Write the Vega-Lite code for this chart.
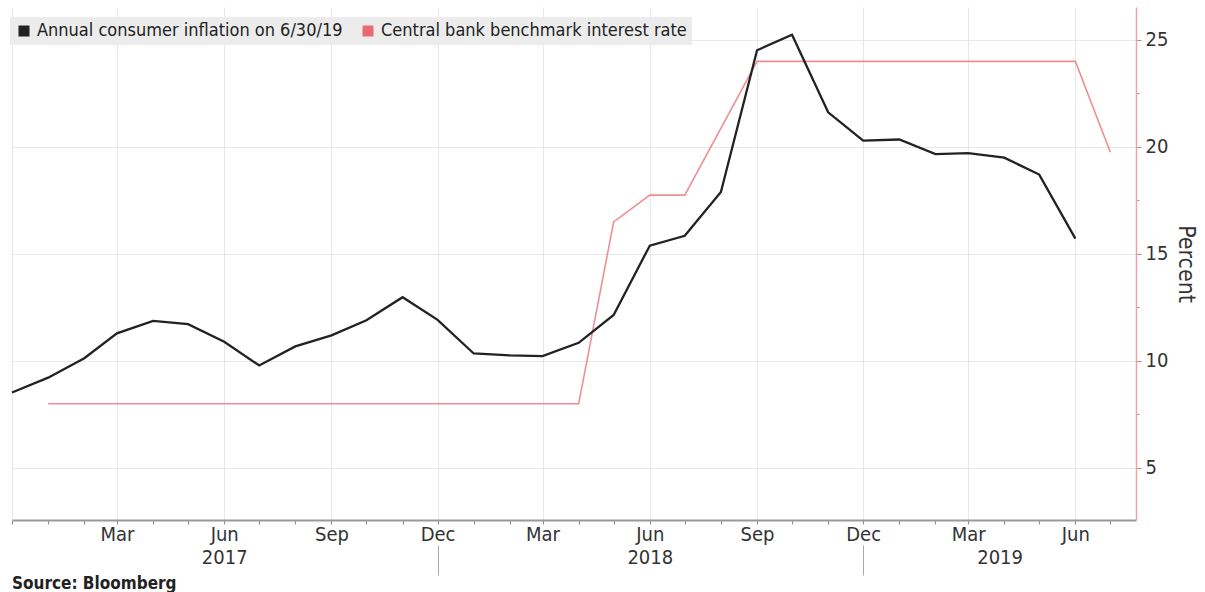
{
  "$schema": "https://vega.github.io/schema/vega-lite/v6.json",
  "width": 1124,
  "height": 513,
  "padding": {"left": 7, "top": 7, "right": 0, "bottom": 0},
  "background": "white",
  "config": {"font": "DejaVu Sans Condensed", "view": {"stroke": null}},
  "title": {"text": "Source: Bloomberg", "orient": "bottom", "anchor": "start", "frame": "group", "fontSize": 17, "fontWeight": "bold", "color": "#222", "font": "DejaVu Sans Condensed", "offset": 0},
  "datasets": {
    "rows": [
      {"date": "2016-12-01", "series": "Annual consumer inflation on 6/30/19", "value": 8.53},
      {"date": "2017-01-01", "series": "Annual consumer inflation on 6/30/19", "value": 9.22},
      {"date": "2017-02-01", "series": "Annual consumer inflation on 6/30/19", "value": 10.13},
      {"date": "2017-03-01", "series": "Annual consumer inflation on 6/30/19", "value": 11.29},
      {"date": "2017-04-01", "series": "Annual consumer inflation on 6/30/19", "value": 11.87},
      {"date": "2017-05-01", "series": "Annual consumer inflation on 6/30/19", "value": 11.72},
      {"date": "2017-06-01", "series": "Annual consumer inflation on 6/30/19", "value": 10.90},
      {"date": "2017-07-01", "series": "Annual consumer inflation on 6/30/19", "value": 9.79},
      {"date": "2017-08-01", "series": "Annual consumer inflation on 6/30/19", "value": 10.68},
      {"date": "2017-09-01", "series": "Annual consumer inflation on 6/30/19", "value": 11.20},
      {"date": "2017-10-01", "series": "Annual consumer inflation on 6/30/19", "value": 11.90},
      {"date": "2017-11-01", "series": "Annual consumer inflation on 6/30/19", "value": 12.98},
      {"date": "2017-12-01", "series": "Annual consumer inflation on 6/30/19", "value": 11.92},
      {"date": "2018-01-01", "series": "Annual consumer inflation on 6/30/19", "value": 10.35},
      {"date": "2018-02-01", "series": "Annual consumer inflation on 6/30/19", "value": 10.26},
      {"date": "2018-03-01", "series": "Annual consumer inflation on 6/30/19", "value": 10.23},
      {"date": "2018-04-01", "series": "Annual consumer inflation on 6/30/19", "value": 10.85},
      {"date": "2018-05-01", "series": "Annual consumer inflation on 6/30/19", "value": 12.15},
      {"date": "2018-06-01", "series": "Annual consumer inflation on 6/30/19", "value": 15.39},
      {"date": "2018-07-01", "series": "Annual consumer inflation on 6/30/19", "value": 15.85},
      {"date": "2018-08-01", "series": "Annual consumer inflation on 6/30/19", "value": 17.90},
      {"date": "2018-09-01", "series": "Annual consumer inflation on 6/30/19", "value": 24.52},
      {"date": "2018-10-01", "series": "Annual consumer inflation on 6/30/19", "value": 25.24},
      {"date": "2018-11-01", "series": "Annual consumer inflation on 6/30/19", "value": 21.62},
      {"date": "2018-12-01", "series": "Annual consumer inflation on 6/30/19", "value": 20.30},
      {"date": "2019-01-01", "series": "Annual consumer inflation on 6/30/19", "value": 20.35},
      {"date": "2019-02-01", "series": "Annual consumer inflation on 6/30/19", "value": 19.67},
      {"date": "2019-03-01", "series": "Annual consumer inflation on 6/30/19", "value": 19.71},
      {"date": "2019-04-01", "series": "Annual consumer inflation on 6/30/19", "value": 19.50},
      {"date": "2019-05-01", "series": "Annual consumer inflation on 6/30/19", "value": 18.71},
      {"date": "2019-06-01", "series": "Annual consumer inflation on 6/30/19", "value": 15.72},
      {"date": "2017-01-01", "series": "Central bank benchmark interest rate", "value": 8},
      {"date": "2017-02-01", "series": "Central bank benchmark interest rate", "value": 8},
      {"date": "2017-03-01", "series": "Central bank benchmark interest rate", "value": 8},
      {"date": "2017-04-01", "series": "Central bank benchmark interest rate", "value": 8},
      {"date": "2017-05-01", "series": "Central bank benchmark interest rate", "value": 8},
      {"date": "2017-06-01", "series": "Central bank benchmark interest rate", "value": 8},
      {"date": "2017-07-01", "series": "Central bank benchmark interest rate", "value": 8},
      {"date": "2017-08-01", "series": "Central bank benchmark interest rate", "value": 8},
      {"date": "2017-09-01", "series": "Central bank benchmark interest rate", "value": 8},
      {"date": "2017-10-01", "series": "Central bank benchmark interest rate", "value": 8},
      {"date": "2017-11-01", "series": "Central bank benchmark interest rate", "value": 8},
      {"date": "2017-12-01", "series": "Central bank benchmark interest rate", "value": 8},
      {"date": "2018-01-01", "series": "Central bank benchmark interest rate", "value": 8},
      {"date": "2018-02-01", "series": "Central bank benchmark interest rate", "value": 8},
      {"date": "2018-03-01", "series": "Central bank benchmark interest rate", "value": 8},
      {"date": "2018-04-01", "series": "Central bank benchmark interest rate", "value": 8},
      {"date": "2018-05-01", "series": "Central bank benchmark interest rate", "value": 16.5},
      {"date": "2018-06-01", "series": "Central bank benchmark interest rate", "value": 17.75},
      {"date": "2018-07-01", "series": "Central bank benchmark interest rate", "value": 17.75},
      {"date": "2018-09-01", "series": "Central bank benchmark interest rate", "value": 24},
      {"date": "2018-10-01", "series": "Central bank benchmark interest rate", "value": 24},
      {"date": "2018-11-01", "series": "Central bank benchmark interest rate", "value": 24},
      {"date": "2018-12-01", "series": "Central bank benchmark interest rate", "value": 24},
      {"date": "2019-01-01", "series": "Central bank benchmark interest rate", "value": 24},
      {"date": "2019-02-01", "series": "Central bank benchmark interest rate", "value": 24},
      {"date": "2019-03-01", "series": "Central bank benchmark interest rate", "value": 24},
      {"date": "2019-04-01", "series": "Central bank benchmark interest rate", "value": 24},
      {"date": "2019-05-01", "series": "Central bank benchmark interest rate", "value": 24},
      {"date": "2019-06-01", "series": "Central bank benchmark interest rate", "value": 24},
      {"date": "2019-07-01", "series": "Central bank benchmark interest rate", "value": 19.75}
    ]
  },
  "data": {"name": "rows"},
  "layer": [
    {
      "transform": [{"filter": "datum.series == 'Central bank benchmark interest rate'"}],
      "mark": {"type": "line", "strokeWidth": 1.6, "strokeOpacity": 0.75},
      "encoding": {
        "x": {
          "field": "date", "type": "temporal",
          "scale": {"type": "utc", "domain": [{"year": 2016, "month": 12, "date": 1, "utc": true}, {"year": 2019, "month": 7, "date": 23, "utc": true}], "nice": false},
          "axis": {
            "orient": "bottom",
            "title": null,
            "tickCount": {"interval": "month", "step": 1},
            "labelExpr": "utcmonth(datum.value) % 3 == 2 && utcyear(datum.value) > 2016 ? utcFormat(datum.value, '%b') : ''",
            "labelOverlap": false, "labelFlush": false, "labelBound": false,
            "labelFontSize": 20, "labelColor": "#333", "labelPadding": 0,
            "tickSize": 4, "tickColor": "#888", "domainColor": "#999", "domainWidth": 2,
            "grid": true, "gridColor": "#e8e8e8",
            "gridOpacity": {"condition": {"test": "utcmonth(datum.value) % 3 == 2", "value": 1}, "value": 0}
          }
        },
        "y": {
          "field": "value", "type": "quantitative",
          "scale": {"domain": [2.57, 26.54], "nice": false, "zero": false},
          "axis": {
            "orient": "right", "title": "Percent", "titleFontSize": 23, "titleFontWeight": "normal", "titleColor": "#333", "titlePadding": 6,
            "values": [2.5, 5, 7.5, 10, 12.5, 15, 17.5, 20, 22.5, 25],
            "labelExpr": "datum.value % 5 == 0 ? datum.value : ''",
            "labelFontSize": 20, "labelColor": "#333", "labelPadding": 4,
            "tickSize": {"condition": {"test": "datum.value % 5 == 0", "value": 5}, "value": 3},
            "tickColor": "#999", "domainColor": "#f3a3a8", "domainWidth": 1.5,
            "grid": true, "gridColor": "#e8e8e8",
            "gridOpacity": {"condition": {"test": "datum.value % 5 == 0", "value": 1}, "value": 0}
          }
        },
        "color": {
          "field": "series", "type": "nominal",
          "scale": {"domain": ["Annual consumer inflation on 6/30/19", "Central bank benchmark interest rate"], "range": ["#222222", "#ea6a72"]},
          "legend": {
            "orient": "none", "legendX": -2, "legendY": 10, "direction": "horizontal", "title": null,
            "fillColor": "#ececec", "padding": 5, "symbolType": "square", "symbolSize": 121,
            "labelFontSize": 18, "labelColor": "#222", "columnPadding": 16, "labelOffset": 4, "labelLimit": 0,
            "symbolOpacity": 1,
            "encode": {"symbols": {"update": {"fill": {"scale": "color", "field": "value"}, "strokeWidth": {"value": 0}, "opacity": {"value": 1}}}}
          }
        }
      }
    },
    {
      "transform": [{"filter": "datum.series == 'Annual consumer inflation on 6/30/19'"}],
      "mark": {"type": "line", "strokeWidth": 2.3},
      "encoding": {
        "x": {
          "field": "date", "type": "temporal",
          "axis": {
            "orient": "bottom",
            "offset": 25,
            "title": null,
            "values": [{"year": 2017, "month": 6, "date": 1, "utc": true}, {"year": 2017, "month": 12, "date": 1, "utc": true}, {"year": 2018, "month": 6, "date": 1, "utc": true}, {"year": 2018, "month": 12, "date": 1, "utc": true}, {"year": 2019, "month": 3, "date": 28, "utc": true}],
            "labelExpr": "utcmonth(datum.value) == 11 ? '' : utcFormat(datum.value, '%Y')",
            "domain": false, "grid": false,
            "tickSize": 30, "tickColor": "#aaa",
            "tickOpacity": {"condition": {"test": "utcmonth(datum.value) == 11", "value": 1}, "value": 0},
            "labelPadding": -28, "labelFontSize": 20, "labelColor": "#333",
            "labelOverlap": false, "labelFlush": false, "labelBound": false
          }
        },
        "y": {"field": "value", "type": "quantitative"},
        "color": {"field": "series", "type": "nominal"}
      }
    }
  ],
  "resolve": {"axis": {"x": "independent"}}
}
